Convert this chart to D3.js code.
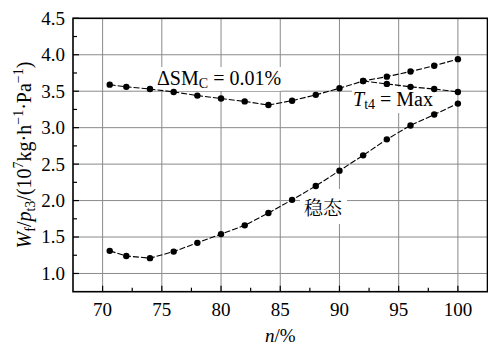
<!DOCTYPE html>
<html>
<head>
<meta charset="utf-8">
<script src="https://cdn.jsdelivr.net/npm/d3@7"></script>
<style>
  body { margin: 0; background: #fff; }
  text { font-family: "Liberation Serif", "Times New Roman", serif; fill: #000; }
</style>
</head>
<body>
<svg id="chart" width="488" height="346"></svg>
<script>
// data
const speed = [70.6, 72, 74, 76, 78, 80, 82, 84, 86, 88, 90, 92, 94, 96, 98, 100];
const steady = [1.31, 1.24, 1.21, 1.30, 1.42, 1.54, 1.66, 1.83, 2.01, 2.20, 2.41, 2.62, 2.84, 3.03, 3.18, 3.33];
const surgeMargin = [3.59, 3.56, 3.53, 3.49, 3.44, 3.40, 3.36, 3.31, 3.37, 3.45, 3.54, 3.64, 3.70, 3.77, 3.85, 3.94];
const tempSpeed = [92, 94, 96, 98, 100];
const tempMax = [3.64, 3.60, 3.56, 3.53, 3.49];
const xTicks = [70, 75, 80, 85, 90, 95, 100];
const xMinor = [72.5, 77.5, 82.5, 87.5, 92.5, 97.5];
const yTicks = [1.0, 1.5, 2.0, 2.5, 3.0, 3.5, 4.0, 4.5];
const yMinor = [1.25, 1.75, 2.25, 2.75, 3.25, 3.75, 4.25];

const svg = d3.select("#chart");
const mLeft = 73, mRight = 487.5, mTop = 18.3, mBottom = 291.7;

const x = d3.scaleLinear().domain([67.5, 102.5]).range([mLeft, mRight]);
const y = d3.scaleLinear().domain([0.75, 4.5]).range([mBottom, mTop]);

// grid
const grid = svg.append("g").attr("stroke", "#8a8a8a").attr("stroke-width", 1);
grid.selectAll("line.v").data(xTicks).enter().append("line")
  .attr("x1", d => x(d)).attr("x2", d => x(d))
  .attr("y1", mTop).attr("y2", mBottom);
grid.selectAll("line.h").data(yTicks.filter(d => d < 4.5)).enter().append("line")
  .attr("x1", mLeft).attr("x2", mRight)
  .attr("y1", d => y(d)).attr("y2", d => y(d));

// ticks inside the frame
const ticks = svg.append("g").attr("stroke", "#000").attr("stroke-width", 1.2);
ticks.selectAll("line.xt").data(xTicks.map(d => [d, 6]).concat(xMinor.map(d => [d, 4]))).enter().append("line")
  .attr("x1", d => x(d[0])).attr("x2", d => x(d[0]))
  .attr("y1", mBottom).attr("y2", d => mBottom - d[1]);
ticks.selectAll("line.yt").data(yTicks.map(d => [d, 6]).concat(yMinor.map(d => [d, 4]))).enter().append("line")
  .attr("x1", mLeft).attr("x2", d => mLeft + d[1])
  .attr("y1", d => y(d[0])).attr("y2", d => y(d[0]));

// frame
svg.append("rect")
  .attr("x", mLeft).attr("y", mTop)
  .attr("width", mRight - mLeft).attr("height", mBottom - mTop)
  .attr("fill", "none").attr("stroke", "#000").attr("stroke-width", 1.6);

// tick labels
svg.append("g").selectAll("text").data(xTicks).enter().append("text")
  .attr("x", d => x(d)).attr("y", 315.5)
  .attr("text-anchor", "middle").attr("font-size", 19)
  .text(d => d);
svg.append("g").selectAll("text").data(yTicks).enter().append("text")
  .attr("x", 65).attr("y", d => y(d)).attr("dy", "0.34em")
  .attr("text-anchor", "end").attr("font-size", 19)
  .text(d => d3.format(".1f")(d));

// axis titles
const xt = svg.append("text").attr("x", (mLeft + mRight) / 2).attr("y", 342)
  .attr("text-anchor", "middle").attr("font-size", 19);
xt.append("tspan").attr("font-style", "italic").text("n");
xt.append("tspan").text("/%");

const yt = svg.append("text")
  .attr("transform", `translate(31,${(mTop + mBottom) / 2}) rotate(-90)`)
  .attr("text-anchor", "middle").attr("font-size", 20);
yt.append("tspan").attr("font-style", "italic").text("W");
yt.append("tspan").attr("font-size", 14).attr("dy", 4).text("f");
yt.append("tspan").attr("dy", -4).text("/");
yt.append("tspan").attr("font-style", "italic").text("p");
yt.append("tspan").attr("font-size", 14).attr("dy", 4).text("t3");
yt.append("tspan").attr("dy", -4).text("/(10");
yt.append("tspan").attr("font-size", 14).attr("dy", -8).text("7");
yt.append("tspan").attr("dy", 8).text("kg·h");
yt.append("tspan").attr("font-size", 14).attr("dy", -8).text("−1");
yt.append("tspan").attr("dy", 8).text("·Pa");
yt.append("tspan").attr("font-size", 14).attr("dy", -8).text("−1");
yt.append("tspan").attr("dy", 8).text(")");

// annotations with white backing
function note(xp, yp, build, pad) {
  const g = svg.append("g");
  const bg = g.append("rect").attr("fill", "#fff");
  const t = g.append("text").attr("x", xp).attr("y", yp).attr("font-size", 20);
  build(t);
  const b = t.node().getBBox();
  bg.attr("x", b.x - pad).attr("y", b.y - pad)
    .attr("width", b.width + 2 * pad).attr("height", b.height + 2 * pad);
}
note(157, 85, t => {
  t.append("tspan").text("ΔSM");
  t.append("tspan").attr("font-size", 14).attr("dy", 3).text("C");
  t.append("tspan").attr("dy", -3).text(" = 0.01%");
}, 0);
note(353, 106, t => {
  t.append("tspan").attr("font-style", "italic").text("T");
  t.append("tspan").attr("font-size", 14).attr("dy", 3).text("t4");
  t.append("tspan").attr("dy", -3).text(" = Max");
}, 1);
note(304, 215, t => {
  t.attr("font-size", 19).style("font-family", "'Noto Serif CJK SC','Noto Sans CJK SC',sans-serif").text("稳态");
}, 4);

// series
const line = d3.line().x(d => x(d[0])).y(d => y(d[1]));
const series = [
  d3.zip(speed, steady),
  d3.zip(speed, surgeMargin),
  d3.zip(tempSpeed, tempMax)
];
svg.append("g").selectAll("path").data(series).enter().append("path")
  .attr("d", line)
  .attr("fill", "none").attr("stroke", "#000").attr("stroke-width", 1.1)
  .attr("stroke-dasharray", "6,2");
svg.append("g").selectAll("circle").data(series.flat()).enter().append("circle")
  .attr("cx", d => x(d[0])).attr("cy", d => y(d[1])).attr("r", 3.2)
  .attr("fill", "#000");
</script>
</body>
</html>
